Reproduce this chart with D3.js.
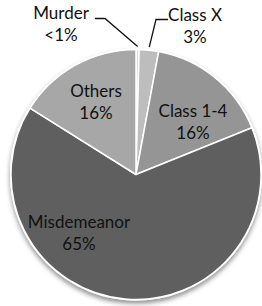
<!DOCTYPE html>
<html>
<head>
<meta charset="utf-8">
<script src="https://cdn.jsdelivr.net/npm/d3@7"></script>
<style>
  body { margin: 0; background: #fff; }
  svg text { font-family: Lato, "Noto Sans", sans-serif; fill: #111; }
</style>
</head>
<body>
<script>
// slices clockwise from 12 o'clock
var categories = ["Murder", "Class X", "Class 1-4", "Misdemeanor", "Others"]
var shares = [0.4, 2.5, 16, 65, 16.1]
var pctLabels = ["<1%", "3%", "16%", "65%", "16%"]
var colors = ["#dcdcdc", "#bdbdbd", "#959595", "#5f5f5f", "#a7a7a7"]

var w = 262
var h = 306
var cx = 136, cy = 174.5, r = 125

// label spots (centre x, first baseline y) - Excel "best fit" placement
var labelPos = {
    "Murder": [61, 19],
    "Class X": [195, 21],
    "Class 1-4": [193, 117],
    "Misdemeanor": [79, 228],
    "Others": [96, 97]
}
// outside labels that get a leader line: [elbow x, elbow y, end of flat x]
var leaders = {
    "Murder": [105, 18.5, 95],
    "Class X": [156, 19.5, 168]
}

var data = categories.map((c, i) => ({name: c, value: shares[i], pct: pctLabels[i], color: colors[i]}))

var svg = d3.select("body")
            .append("svg")
            .attr("width", w)
            .attr("height", h)

var defs = svg.append("defs")
var f = defs.append("filter")
    .attr("id", "shadow")
    .attr("x", "-10%").attr("y", "-10%")
    .attr("width", "120%").attr("height", "125%")
f.append("feDropShadow")
    .attr("dx", 0).attr("dy", 3)
    .attr("stdDeviation", 2.5)
    .attr("flood-color", "#000")
    .attr("flood-opacity", 0.45)

var pie = d3.pie().sort(null).value(d => d.value)
var arc = d3.arc().innerRadius(0).outerRadius(r)
var arcs = pie(data)

var g = svg.append("g")
    .attr("transform", "translate(" + cx + "," + cy + ")")

// shadowed disc behind the slices
g.append("circle")
    .attr("r", r)
    .attr("fill", "#fff")
    .attr("stroke", "#fff")
    .attr("stroke-width", 2)
    .attr("filter", "url(#shadow)")

g.selectAll("path.slice")
    .data(arcs)
    .enter()
    .append("path")
    .attr("class", "slice")
    .attr("d", arc)
    .attr("fill", d => d.data.color)
    .attr("stroke", "#fff")
    .attr("stroke-width", 1.5)
    .attr("stroke-linejoin", "round")

// leader lines
var outer = d3.arc().innerRadius(r + 3).outerRadius(r + 3)
arcs.forEach(function(a) {
    var l = leaders[a.data.name]
    if (!l) return
    var mid = (a.startAngle + a.endAngle) / 2
    var ex = cx + (r + 3) * Math.sin(mid)
    var ey = cy - (r + 3) * Math.cos(mid)
    svg.append("path")
        .attr("d", "M" + l[2] + "," + l[1] + "L" + l[0] + "," + l[1] + "L" + ex + "," + ey)
        .attr("fill", "none")
        .attr("stroke", "#111")
        .attr("stroke-width", 1.3)
})

// labels
arcs.forEach(function(a) {
    var p = labelPos[a.data.name]
    var t = svg.append("text")
        .attr("text-anchor", "middle")
        .style("font-size", "17px")
    t.append("tspan").attr("x", p[0]).attr("y", p[1]).text(a.data.name)
    t.append("tspan").attr("x", p[0]).attr("y", p[1] + 22).text(a.data.pct)
})
</script>
</body>
</html>
